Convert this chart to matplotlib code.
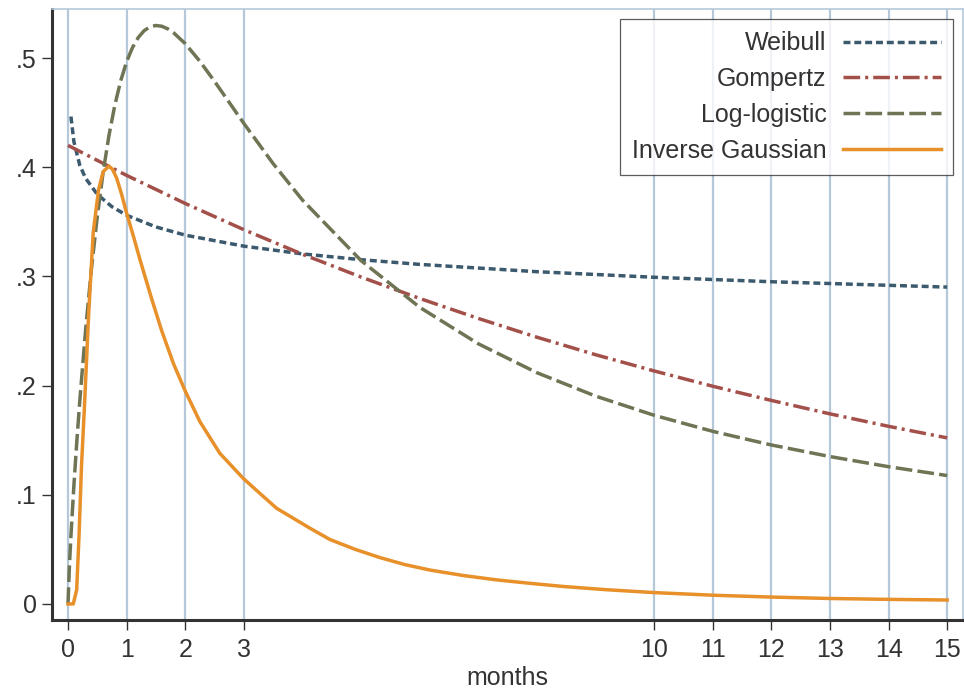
import matplotlib
matplotlib.use("Agg")
import matplotlib.pyplot as plt

plt.rcParams['font.family'] = ['Liberation Sans', 'DejaVu Sans']
plt.rcParams['lines.scale_dashes'] = False

# ---- data ----
x_ticks = [0, 1, 2, 3, 10, 11, 12, 13, 14, 15]
y_ticks = [0, 0.1, 0.2, 0.3, 0.4, 0.5]
y_tick_labels = ["0", ".1", ".2", ".3", ".4", ".5"]

weibull_x = [0.05, 0.1, 0.2, 0.3, 0.5, 0.75, 1, 1.5, 2, 3, 4, 5, 6, 8, 10, 12, 15]
weibull_y = [0.4464, 0.4236, 0.4020, 0.3899, 0.3751, 0.3638, 0.3560, 0.3453, 0.3378,
             0.3277, 0.3206, 0.3153, 0.3110, 0.3043, 0.2992, 0.2951, 0.2902]

gompertz_x = [0, 1, 2, 3, 4, 5, 6, 7, 8, 9, 10, 11, 12, 13, 14, 15]
gompertz_y = [0.4200, 0.3925, 0.3668, 0.3428, 0.3203, 0.2994, 0.2798, 0.2615, 0.2443,
              0.2283, 0.2134, 0.1994, 0.1864, 0.1741, 0.1627, 0.1521]

loglog_x = [0, 0.025, 0.05, 0.1, 0.15, 0.2, 0.3, 0.4, 0.5, 0.6, 0.7, 0.8, 0.9, 1.0, 1.1,
            1.2, 1.3, 1.4, 1.5, 1.6, 1.7, 1.8, 2.0, 2.25, 2.5, 2.75, 3, 3.5, 4, 5, 6, 7,
            8, 9, 10, 11, 12, 13, 14, 15]
loglog_y = [0, 0.0358, 0.0623, 0.1080, 0.1485, 0.1853, 0.2508, 0.3070, 0.3550, 0.3956,
            0.4294, 0.4571, 0.4793, 0.4966, 0.5096, 0.5189, 0.5251, 0.5286, 0.5298,
            0.5291, 0.5268, 0.5232, 0.5132, 0.4970, 0.4786, 0.4594, 0.4401, 0.4033,
            0.3699, 0.3145, 0.2717, 0.2383, 0.2118, 0.1904, 0.1728, 0.1581, 0.1456,
            0.1350, 0.1257, 0.1176]

invgauss_x = [0, 0.09, 0.148, 0.19, 0.23, 0.28, 0.35, 0.43, 0.52, 0.60, 0.70, 0.76, 0.83,
              0.91, 1.0, 1.12, 1.23, 1.43, 1.60, 1.80, 2.0, 2.25, 2.59, 2.99, 3.3, 3.56,
              4.13, 4.47, 4.9, 5.32, 5.75, 6.18, 6.75, 7.32, 7.9, 8.45, 9.2, 10.0, 11,
              12, 13, 14, 15]
invgauss_y = [0, 0, 0.013, 0.065, 0.126, 0.180, 0.263, 0.340, 0.379, 0.396, 0.401, 0.398,
              0.390, 0.376, 0.358, 0.336, 0.315, 0.279, 0.250, 0.220, 0.195, 0.167, 0.138,
              0.115, 0.100, 0.0876, 0.0693, 0.059, 0.050, 0.0425, 0.036, 0.031, 0.026,
              0.022, 0.0188, 0.0160, 0.0130, 0.0104, 0.0080, 0.0063, 0.0050, 0.0042, 0.0036]

labels = ["Weibull", "Gompertz", "Log-logistic", "Inverse Gaussian"]

# ---- figure ----
fig = plt.figure(figsize=(9.64, 6.93), dpi=100)
ax = fig.add_axes([52/964, 73/693, 911/964, 611/693])

grid_col = "#b4c8da"
axis_col = "#333333"
text_col = "#333333"
lw = 2.5

for xt in x_ticks:
    ax.axvline(xt, color=grid_col, lw=1.6, zorder=0)

ax.plot(weibull_x, weibull_y, color="#3c5a6e", lw=lw, ls=(0, (5.0, 2.8)), label=labels[0])
ax.plot(gompertz_x, gompertz_y, color="#a4504a", lw=lw, ls=(0, (12, 3.6, 2.2, 3.6)), label=labels[1])
ax.plot(loglog_x, loglog_y, color="#6e7454", lw=lw, ls=(0, (12, 3.8)), label=labels[2])
ax.plot(invgauss_x, invgauss_y, color="#e8902a", lw=lw, ls="-", label=labels[3])

ax.set_xlim(-0.273, 15.27)
ax.set_ylim(-0.0147, 0.5449)

ax.set_xticks(x_ticks)
ax.set_xticklabels([str(v) for v in x_ticks])
ax.set_yticks(y_ticks)
ax.set_yticklabels(y_tick_labels)
ax.tick_params(axis='both', direction='out', length=7.5, width=1.0, color=axis_col,
               labelcolor=text_col, labelsize=18)
ax.tick_params(axis='y', pad=3.5)
ax.tick_params(axis='x', pad=5.5)

ax.set_xlabel("months", fontsize=18, color=text_col, labelpad=3)

for s in ['left', 'bottom']:
    ax.spines[s].set_color(axis_col)
    ax.spines[s].set_linewidth(2.2)
for s in ['top', 'right']:
    ax.spines[s].set_color(grid_col)
    ax.spines[s].set_linewidth(1.2)

leg = ax.legend(loc='upper right', markerfirst=False, fontsize=18, frameon=True,
                fancybox=False, handlelength=3.9, handletextpad=0.65,
                labelspacing=0.47, borderpad=0.5, borderaxespad=0.4)
leg.get_frame().set_edgecolor(axis_col)
leg.get_frame().set_linewidth(0.9)
for t in leg.get_texts():
    t.set_color(text_col)

fig.savefig("out.png", dpi=100)
